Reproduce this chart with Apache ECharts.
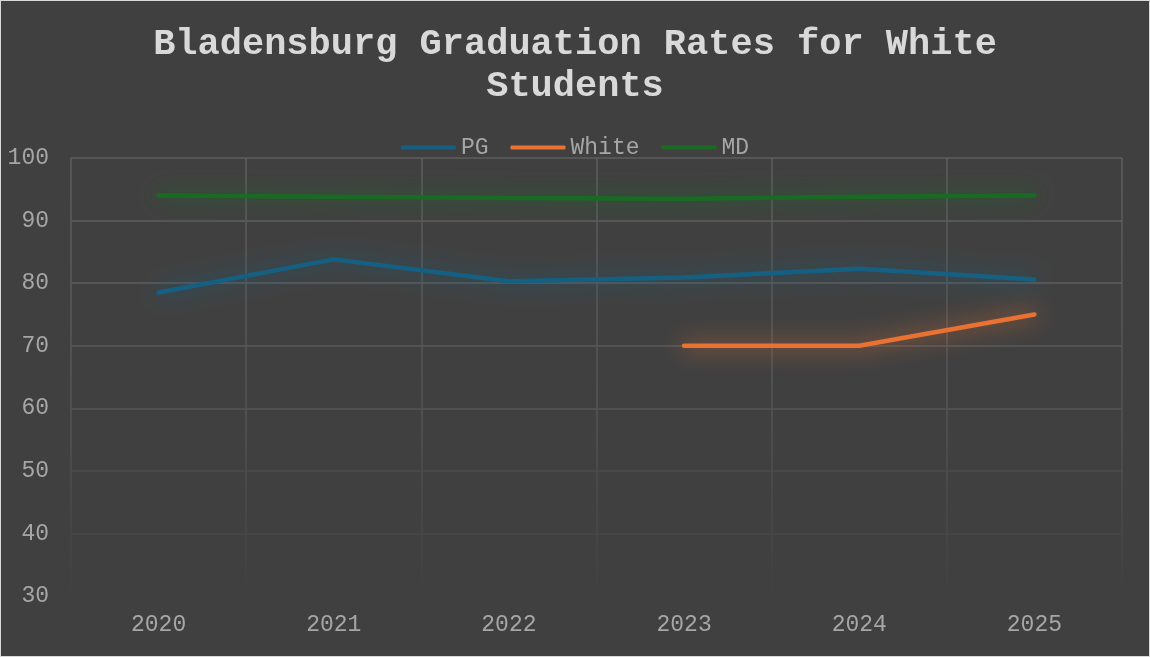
<!DOCTYPE html>
<html>
<head>
<meta charset="utf-8">
<script src="https://cdn.jsdelivr.net/npm/echarts@6/dist/echarts.min.js"></script>
<style>
  html, body { margin: 0; padding: 0; background: #404040; }
  #chart { width: 1150px; height: 657px; box-sizing: border-box; border: 1px solid #d9d9d9; }
</style>
</head>
<body>
<div id="chart"></div>
<script>
// Bladensburg graduation rates
var years = ['2020', '2021', '2022', '2023', '2024', '2025'];
var pgRates = [78.5, 83.8, 80.3, 80.9, 82.3, 80.6];
var whiteRates = [null, null, null, 70, 70, 75];
var mdRates = [94.0, 93.8, 93.6, 93.5, 93.8, 94.0];

var font = '"Liberation Mono", "Courier New", monospace';

function lineSeries(name, data, color) {
  return {
    name: name,
    type: 'line',
    data: data,
    symbol: 'none',
    connectNulls: false,
    lineStyle: {
      width: 4.5,
      color: color,
      cap: 'round',
      shadowColor: color,
      shadowBlur: 22
    },
    itemStyle: { color: color }
  };
}

var chart = echarts.init(document.getElementById('chart'));
chart.setOption({
  backgroundColor: '#404040',
  title: {
    text: 'Bladensburg Graduation Rates for White\nStudents',
    left: 'center',
    top: 18,
    textStyle: {
      fontFamily: font,
      fontWeight: 'bold',
      fontSize: 37,
      lineHeight: 42,
      color: '#d9d9d9'
    }
  },
  legend: {
    top: 130,
    left: 'center',
    itemWidth: 55,
    itemHeight: 4,
    itemGap: 22,
    icon: 'roundRect',
    textStyle: { fontFamily: font, fontSize: 23, color: '#a6a6a6' },
    data: ['PG', 'White', 'MD']
  },
  grid: { left: 70, right: 27, top: 157, bottom: 60 },
  xAxis: {
    type: 'category',
    data: years,
    boundaryGap: true,
    axisLine: { show: false },
    axisTick: { show: false },
    axisLabel: { fontFamily: font, fontSize: 23, color: '#a6a6a6', margin: 17 },
    splitLine: {
      show: true,
      interval: 0,
      lineStyle: {
        width: 1.5,
        color: new echarts.graphic.LinearGradient(0, 0, 0, 1, [
          { offset: 0, color: '#5e5e5e' },
          { offset: 0.55, color: '#555555' },
          { offset: 1, color: '#404040' }
        ])
      }
    }
  },
  yAxis: {
    type: 'value',
    min: 30,
    max: 100,
    interval: 10,
    axisLine: { show: false },
    axisTick: { show: false },
    axisLabel: { fontFamily: font, fontSize: 23, color: '#a6a6a6', margin: 22 },
    splitLine: {
      lineStyle: {
        width: 1.5,
        color: ['#404040', '#474747', '#4b4b4b', '#545454', '#5a5a5a', '#5e5e5e', '#5e5e5e', '#5e5e5e']
      }
    }
  },
  series: [
    lineSeries('PG', pgRates, '#156082'),
    lineSeries('White', whiteRates, '#e97132'),
    lineSeries('MD', mdRates, '#196b24')
  ]
});
</script>
</body>
</html>
